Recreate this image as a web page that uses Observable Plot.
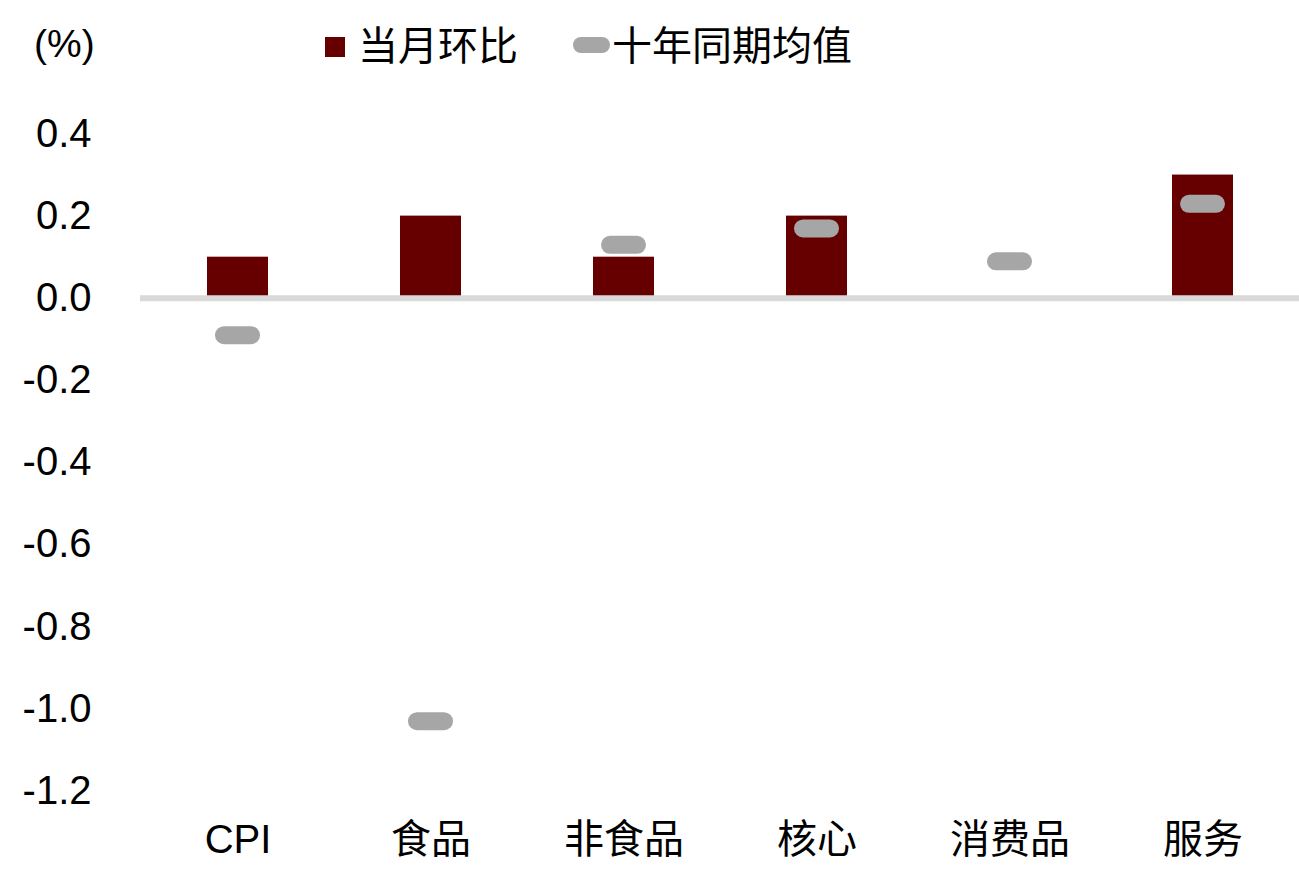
<!DOCTYPE html>
<html>
<head>
<meta charset="utf-8">
<script src="https://cdn.jsdelivr.net/npm/d3@7"></script>
<script src="https://cdn.jsdelivr.net/npm/@observablehq/plot@0.6"></script>
<style>
  body { margin: 0; background: #fff; font-family: 'Liberation Sans', Arial, 'Noto Sans CJK SC', sans-serif; color: #000; }
  #legend { position: relative; width: 1299px; height: 90px; }
  #legend .t { position: absolute; font-size: 40px; line-height: 40px; white-space: nowrap; }
  #legend .sw { position: absolute; }
</style>
</head>
<body>
<div id="legend">
  <span class="t" style="left:34px; top:24px; font-size:39px;">(%)</span>
  <span class="sw" style="left:325px; top:37px; width:20px; height:20px; background:#660000;"></span>
  <span class="t" style="left:358px; top:26px;">当月环比</span>
  <span class="sw" style="left:573px; top:37px; width:37px; height:16px; border-radius:8px; background:#a6a6a6;"></span>
  <span class="t" style="left:612px; top:26px;">十年同期均值</span>
</div>
<div id="chart"></div>
<script>
const categories = ["CPI", "食品", "非食品", "核心", "消费品", "服务"];
const monthlyChange = [0.1, 0.2, 0.1, 0.2, 0.0, 0.3];
const tenYearAvg = [-0.09, -1.03, 0.13, 0.17, 0.09, 0.23];
const yTicks = [0.4, 0.2, 0.0, -0.2, -0.4, -0.6, -0.8, -1.0, -1.2];

const rows = categories.map((c, i) => ({ category: c, monthly: monthlyChange[i], avg: tenYearAvg[i] }));

const chart = Plot.plot({
  width: 1299,
  height: 789,
  marginTop: 43.5,
  marginBottom: 88.5,
  marginLeft: 140,
  marginRight: 0,
  style: { fontFamily: "'Liberation Sans', Arial, 'Noto Sans CJK SC', sans-serif", fontSize: "40px", color: "#000", background: "#fff" },
  x: { domain: categories, padding: 0, label: null },
  y: { domain: [-1.2, 0.4], label: null },
  marks: [
    Plot.barY(rows, { x: "category", y: "monthly", fill: "#660000", insetLeft: 66, insetRight: 66 }),
    Plot.ruleY([0], { stroke: "#d9d9d9", strokeWidth: 6 }),
    Plot.tickY(rows, { x: "category", y: "avg", stroke: "#a6a6a6", strokeWidth: 18, strokeLinecap: "round", insetLeft: 83, insetRight: 83 }),
    Plot.axisY({ ticks: yTicks, tickFormat: d => d.toFixed(1), tickSize: 0, tickPadding: 49, fontSize: 40, label: null }),
    Plot.axisX({ tickSize: 0, tickPadding: 34, fontSize: 40, label: null })
  ]
});
document.getElementById("chart").appendChild(chart);
</script>
</body>
</html>
